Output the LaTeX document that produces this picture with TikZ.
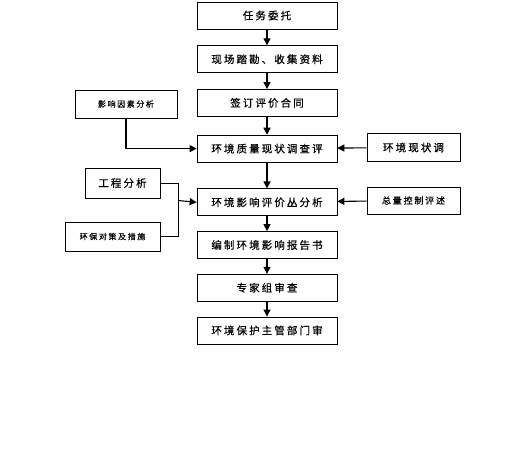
\documentclass[tikz,border=0pt]{standalone}
\usepackage{fontspec}
\newfontfamily\cjk[LetterSpace=20,FakeBold=0.6]{Noto Sans CJK SC}
\usetikzlibrary{arrows.meta,positioning}

\begin{document}
\begin{tikzpicture}[
    x=1pt, y=-1pt,
    node distance=16pt,
    mainbox/.style={draw, line width=0.7pt, minimum width=140pt, minimum height=27pt, inner sep=0pt, font=\cjk\fontsize{10.5}{12}\selectfont},
    sidebox/.style={draw, line width=0.7pt, minimum height=28pt, inner sep=0pt, font=\cjk\fontsize{10.5}{12}\selectfont},
    smallbox/.style={sidebox, font=\cjk\fontsize{8}{10}\selectfont},
    arrow/.style={-{Triangle[length=7pt,width=7pt]}, line width=1.1pt},
    link/.style={line width=0.7pt}
  ]
    \useasboundingbox (0,0) rectangle (521,465);

    % main chain
    \node[mainbox] (task) at (267,15.5) {任务委托};
    \node[mainbox, below=of task] (survey) {现场踏勘、收集资料};
    \node[mainbox, below=of survey] (contract) {签订评价合同};
    \node[mainbox, below=18pt of contract] (quality) {环境质量现状调查评};
    \node[mainbox, below=26pt of quality] (impact) {环境影响评价丛分析};
    \node[mainbox, below=15pt of impact] (report) {编制环境影响报告书};
    \node[mainbox, below=15pt of report] (expert) {专家组审查};
    \node[mainbox, below=15pt of expert] (authority) {环境保护主管部门审};

    % side inputs
    \node[smallbox, minimum width=102pt] (factor) at (126,104) {影响因素分析};
    \node[sidebox, minimum width=75pt, minimum height=30pt] (project) at (122.5,183) {工程分析};
    \node[smallbox, minimum width=95pt, minimum height=29pt] (measure) at (112.5,236.5) {环保对策及措施};
    \node[sidebox, minimum width=93pt] (status) at (413.5,147.5) {环境现状调};
    \node[sidebox, minimum width=93pt, minimum height=27pt, font=\cjk\fontsize{9}{11}\selectfont] (total) at (413.5,200.5) {总量控制评述};
    \coordinate (join) at (178,200.5);

    \draw[arrow] (task) -- (survey);
    \draw[arrow] (survey) -- (contract);
    \draw[arrow] (contract) -- (quality);
    \draw[arrow] (quality) -- (impact);
    \draw[arrow] (impact) -- (report);
    \draw[arrow] (report) -- (expert);
    \draw[arrow] (expert) -- (authority);

    \draw[arrow] (factor.south) |- (quality.west);
    \draw[arrow] (status) -- (quality);
    \draw[arrow] (total) -- (impact);
    \draw[link] (project.east) -- (project.east -| join) -- (measure.east -| join) -- (measure.east);
    \draw[arrow] (join) -- (impact.west);
  \end{tikzpicture}
\end{document}
